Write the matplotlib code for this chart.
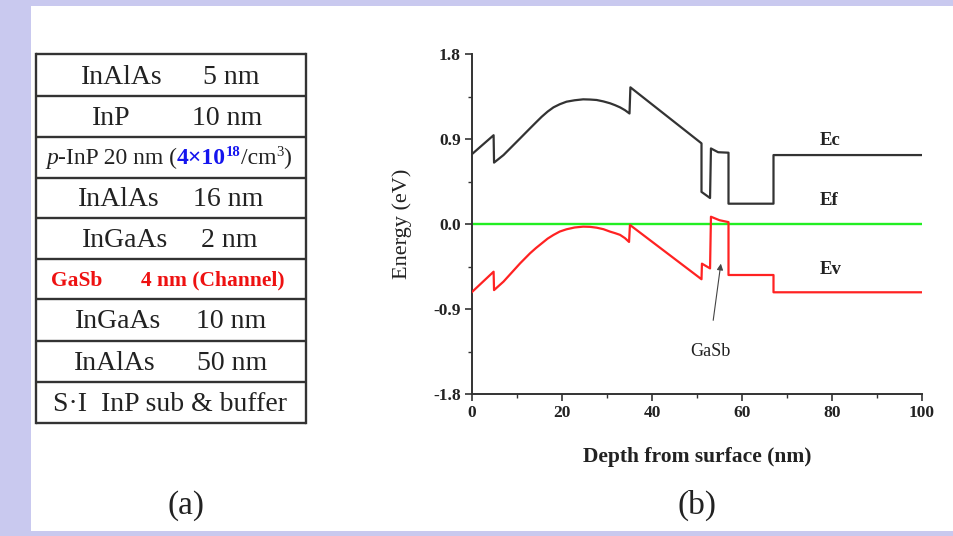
import matplotlib
matplotlib.use("Agg")
import matplotlib.pyplot as plt
from matplotlib.patches import Rectangle
from matplotlib.ticker import MultipleLocator, FormatStrFormatter

plt.rcParams['font.family'] = ['Liberation Serif', 'DejaVu Serif']
plt.rcParams['axes.unicode_minus'] = False

# ---------------- data ----------------
# (a) layer stack
layer_left = ["InAlAs", "InP", "", "InAlAs", "InGaAs", "GaSb", "InGaAs", "InAlAs", ""]
layer_right = ["5 nm", "10 nm", "", "16 nm", "2 nm", "4 nm (Channel)", "10 nm", "50 nm", ""]
substrate_label = "S\u00b7I  InP sub & buffer"
doped_pieces = ["p", "-InP 20 nm (", "4\u00d710", "18", "/cm", "3", ")"]

# (b) band diagram
ec_depth = [0, 4.8, 4.9, 7.0, 10.7, 12.9, 14.2, 15.5, 16.8, 18.1, 19.5, 21.0, 22.8, 24.7,
            26.2, 27.7, 29.2, 30.7, 31.8, 32.9, 34.0, 35.0,
            35.2, 51.0, 51.0, 52.9, 53.1, 54.7, 57.0, 57.0, 67.0, 67.0, 100]
ec_energy = [0.74, 0.94, 0.65, 0.73, 0.907, 1.013, 1.075, 1.136, 1.19, 1.235, 1.268, 1.295,
             1.31, 1.32, 1.318, 1.313, 1.298, 1.278, 1.258, 1.235, 1.205, 1.17,
             1.447, 0.854, 0.34, 0.275, 0.80, 0.76, 0.755, 0.215, 0.215, 0.73, 0.73]

ev_depth = [0, 4.8, 4.9, 7.0, 10.7, 12.9, 14.2, 15.5, 16.8, 18.1, 19.5, 21.0, 22.8, 24.7,
            26.2, 27.7, 29.2, 30.7, 31.8, 32.9, 34.0, 34.9, 35.1,
            51.0, 51.1, 52.9, 53.1, 55.0, 57.0, 57.0, 67.0, 67.0, 100]
ev_energy = [-0.72, -0.505, -0.70, -0.61, -0.416, -0.31, -0.255, -0.205, -0.155, -0.116,
             -0.08, -0.056, -0.037, -0.028, -0.03, -0.039, -0.055, -0.081, -0.097, -0.115,
             -0.15, -0.19, -0.01,
             -0.585, -0.42, -0.47, 0.077, 0.04, 0.02, -0.54, -0.54, -0.723, -0.723]

ef_depth = [0, 100]
ef_energy = [0.0, 0.0]

# ---------------- figure ----------------
W, H = 954, 536
fig = plt.figure(figsize=(W / 100, H / 100), dpi=100)
fig.patch.set_facecolor('#c9c9ef')

# overlay in pixel coordinates
ov = fig.add_axes([0, 0, 1, 1])
ov.set_xlim(0, W)
ov.set_ylim(H, 0)
ov.axis('off')
ov.add_patch(Rectangle((31, 6), W - 31, 525, facecolor='white', edgecolor='none', zorder=0))

# table
tx0, tx1 = 36, 306
row_lines = [54.3, 95.7, 136.7, 177.7, 217.7, 259, 299.3, 340.7, 381.7, 422.7]
for yl in row_lines:
    ov.plot([tx0, tx1], [yl, yl], color='#333333', lw=1.7, solid_capstyle='butt', zorder=2)
ov.plot([tx0, tx0], [row_lines[0], row_lines[-1]], color='#333333', lw=1.7, zorder=2)
ov.plot([tx1, tx1], [row_lines[0], row_lines[-1]], color='#333333', lw=1.7, zorder=2)

left_x = [121.7, 110.8, 0, 118.3, 125.5, 76.7, 118.0, 114.7, 0]
right_x = [230.8, 227.5, 0, 228.3, 229.7, 212.5, 230.8, 231.7, 0]
for i in range(9):
    yc = (row_lines[i] + row_lines[i + 1]) / 2
    yb = yc + 8.5
    if layer_left[i] == "GaSb":
        kw = dict(color='#ee1111', fontweight='bold', fontsize=15.5)
        yb = yc + 6.5
    else:
        kw = dict(color='#222222', fontsize=20)
    if layer_left[i]:
        ov.text(left_x[i], yb, layer_left[i], ha='center', va='baseline', **kw)
        ov.text(right_x[i], yb, layer_right[i], ha='center', va='baseline', **kw)

# substrate row
yc = (row_lines[8] + row_lines[9]) / 2
ov.text(169.7, yc + 8.5, substrate_label, ha='center', va='baseline', color='#222222', fontsize=20)

# doped p-InP row (rich text pieces)
yc = (row_lines[2] + row_lines[3]) / 2
yb = yc + 6.5
styles = [dict(style='italic', fontsize=17, color='#222222'),
          dict(fontsize=17, color='#222222'),
          dict(fontweight='bold', fontsize=17, color='#1515ee'),
          dict(fontweight='bold', fontsize=10.5, color='#1515ee'),
          dict(fontsize=17, color='#222222'),
          dict(fontsize=10.5, color='#222222'),
          dict(fontsize=17, color='#222222')]
raise_px = [0, 0, 0, 8, 0, 8, 0]
texts = []
for s, st, r in zip(doped_pieces, styles, raise_px):
    texts.append(ov.text(0, yb - r, s, ha='left', va='baseline', **st))
fig.canvas.draw()
renderer = fig.canvas.get_renderer()
widths = [t.get_window_extent(renderer).width for t in texts]
total = sum(widths)
x = 168.8 - total / 2
for t, w in zip(texts, widths):
    t.set_x(x)
    x += w

ov.text(185.7, 506, "(a)", ha='center', va='center', fontsize=24, color='#222222')
ov.text(697, 505, "(b)", ha='center', va='center', fontsize=24, color='#222222')

# band diagram axes
ax = fig.add_axes([472 / W, 1 - 394 / H, 450 / W, 340 / H])
ax.set_facecolor('none')
ax.plot(ef_depth, ef_energy, color='#22ee22', lw=1.7, zorder=2)
ax.plot(ec_depth, ec_energy, color='#333333', lw=1.6, zorder=3)
ax.plot(ev_depth, ev_energy, color='#ff2222', lw=1.6, zorder=3)

ax.set_xlim(0, 100)
ax.set_ylim(-1.8, 1.8)
ax.xaxis.set_major_locator(MultipleLocator(20))
ax.xaxis.set_minor_locator(MultipleLocator(10))
ax.yaxis.set_major_locator(MultipleLocator(0.9))
ax.yaxis.set_minor_locator(MultipleLocator(0.45))
ax.yaxis.set_major_formatter(FormatStrFormatter('%.1f'))
for sp in ['top', 'right']:
    ax.spines[sp].set_visible(False)
for sp in ['left', 'bottom']:
    ax.spines[sp].set_linewidth(1.4)
    ax.spines[sp].set_color('#333333')
ax.tick_params(which='major', direction='out', length=5, width=1.2, color='#333333',
               labelsize=12.5, pad=3)
ax.tick_params(which='minor', direction='out', length=3, width=1.0, color='#333333')
for lab in ax.get_xticklabels() + ax.get_yticklabels():
    lab.set_fontweight('bold')
    lab.set_color('#222222')

ax.set_xlabel("Depth from surface (nm)", fontsize=15.5, fontweight='bold', color='#222222')
ax.xaxis.set_label_coords(0.5, -(457 - 394) / 340)
ax.xaxis.label.set_va('center')
ax.set_ylabel("Energy (eV)", fontsize=16, color='#222222')
ax.yaxis.set_label_coords(-(472 - 401.7) / 450, 0.5)
ax.yaxis.label.set_va('center')

ax.text(79.6, 0.889, "Ec", ha='center', va='center', fontsize=13.5, fontweight='bold', color='#222222')
ax.text(79.3, 0.254, "Ef", ha='center', va='center', fontsize=13.5, fontweight='bold', color='#222222')
ax.text(79.8, -0.487, "Ev", ha='center', va='center', fontsize=13.5, fontweight='bold', color='#222222')

ax.annotate("", xy=(55.3, -0.42), xytext=(53.6, -1.02),
            arrowprops=dict(arrowstyle='-|>', color='#444444', lw=0.8, mutation_scale=9,
                            shrinkA=0, shrinkB=0))
ax.text(52.9, -1.35, "GaSb", ha='center', va='center', fontsize=13, color='#222222')

fig.savefig('out.png', dpi=100)
